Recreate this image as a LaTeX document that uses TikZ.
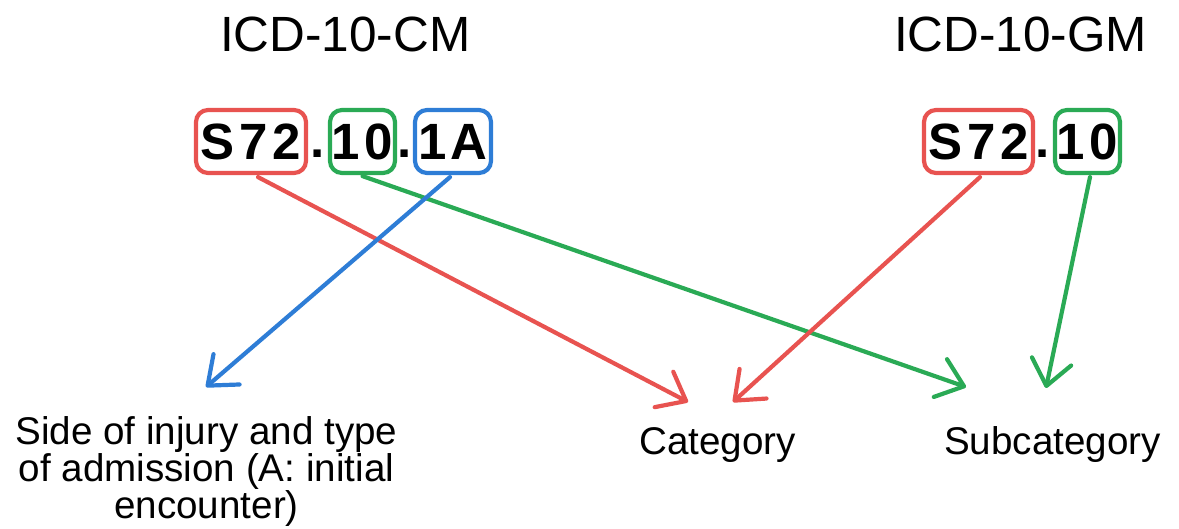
\documentclass[tikz,border=0pt]{standalone}
\usepackage{fontspec}
\setmainfont{Liberation Sans}
\usetikzlibrary{arrows.meta}
\definecolor{cred}{RGB}{232,83,80}
\definecolor{cgreen}{RGB}{42,170,85}
\definecolor{cblue}{RGB}{46,125,214}
\begin{document}
\begin{tikzpicture}[x=1pt,y=-1pt,
  codebox/.style={draw=#1, line width=4.2pt, rounded corners=12pt, minimum height=63pt,
    inner sep=0pt, font=\fontsize{51}{51}\selectfont\bfseries},
  title/.style={anchor=base west, inner sep=0pt, font=\fontsize{49.5}{49.5}\selectfont},
  lab/.style={inner sep=0pt, font=\fontsize{38.6}{35.8}\selectfont},
  dotc/.style={anchor=base, inner sep=0pt, font=\fontsize{51}{51}\selectfont\bfseries},
  conn/.style={draw=#1, line width=4.2pt, line cap=round,
    -{Straight Barb[length=25pt,width=40pt,round]}}
]
\useasboundingbox (0,0) rectangle (1179,529);
% titles
\node[title] (tcm) at (220,52) {ICD-10-CM};
\node[title] (tgm) at (894,52) {ICD-10-GM};
% ICD-10-CM code
\node[codebox=cred, minimum width=110pt] (cmS) at (251,141.5) {S\kern5pt7\kern5pt2};
\node[dotc] (cmd1) at (318,158) {.};
\node[codebox=cgreen, minimum width=65pt] (cm10) at (362.5,141.5) {1\kern5pt0};
\node[dotc] (cmd2) at (405,158) {.};
\node[codebox=cblue, minimum width=76pt] (cm1A) at (453,141.5) {1\kern4ptA};
% ICD-10-GM code
\node[codebox=cred, minimum width=109pt] (gmS) at (978.5,141.5) {S\kern5pt7\kern5pt2};
\node[dotc] (gmd) at (1043,158) {.};
\node[codebox=cgreen, minimum width=65pt] (gm10) at (1087.5,141.5) {1\kern5pt0};
% labels
\node[lab, align=center, anchor=north] (side) at (206.5,416)
  {Side of injury and type\\of admission (A: initial\\encounter)};
\node[lab, anchor=base west] (cat) at (639,454) {Category};
\node[lab, anchor=base west] (sub) at (944,454) {Subcategory};
% arrow tips
\coordinate (tipSide) at (206,387);
\coordinate (tipCatL) at (688,402);
\coordinate (tipCatR) at (733,402);
\coordinate (tipSubL) at (966,387);
\coordinate (tipSubR) at (1046,388);
% connectors
\draw[conn=cred] ([xshift=7pt,yshift=-2pt]cmS.south) -- (tipCatL);
\draw[conn=cgreen] ([yshift=-1pt]cm10.south) -- (tipSubL);
\draw[conn=cblue] ([xshift=-3pt,yshift=-2pt]cm1A.south) -- (tipSide);
\draw[conn=cred] ([xshift=1.5pt,yshift=-2pt]gmS.south) -- (tipCatR);
\draw[conn=cgreen] ([xshift=2.5pt,yshift=-2pt]gm10.south) -- (tipSubR);
\end{tikzpicture}
\end{document}
